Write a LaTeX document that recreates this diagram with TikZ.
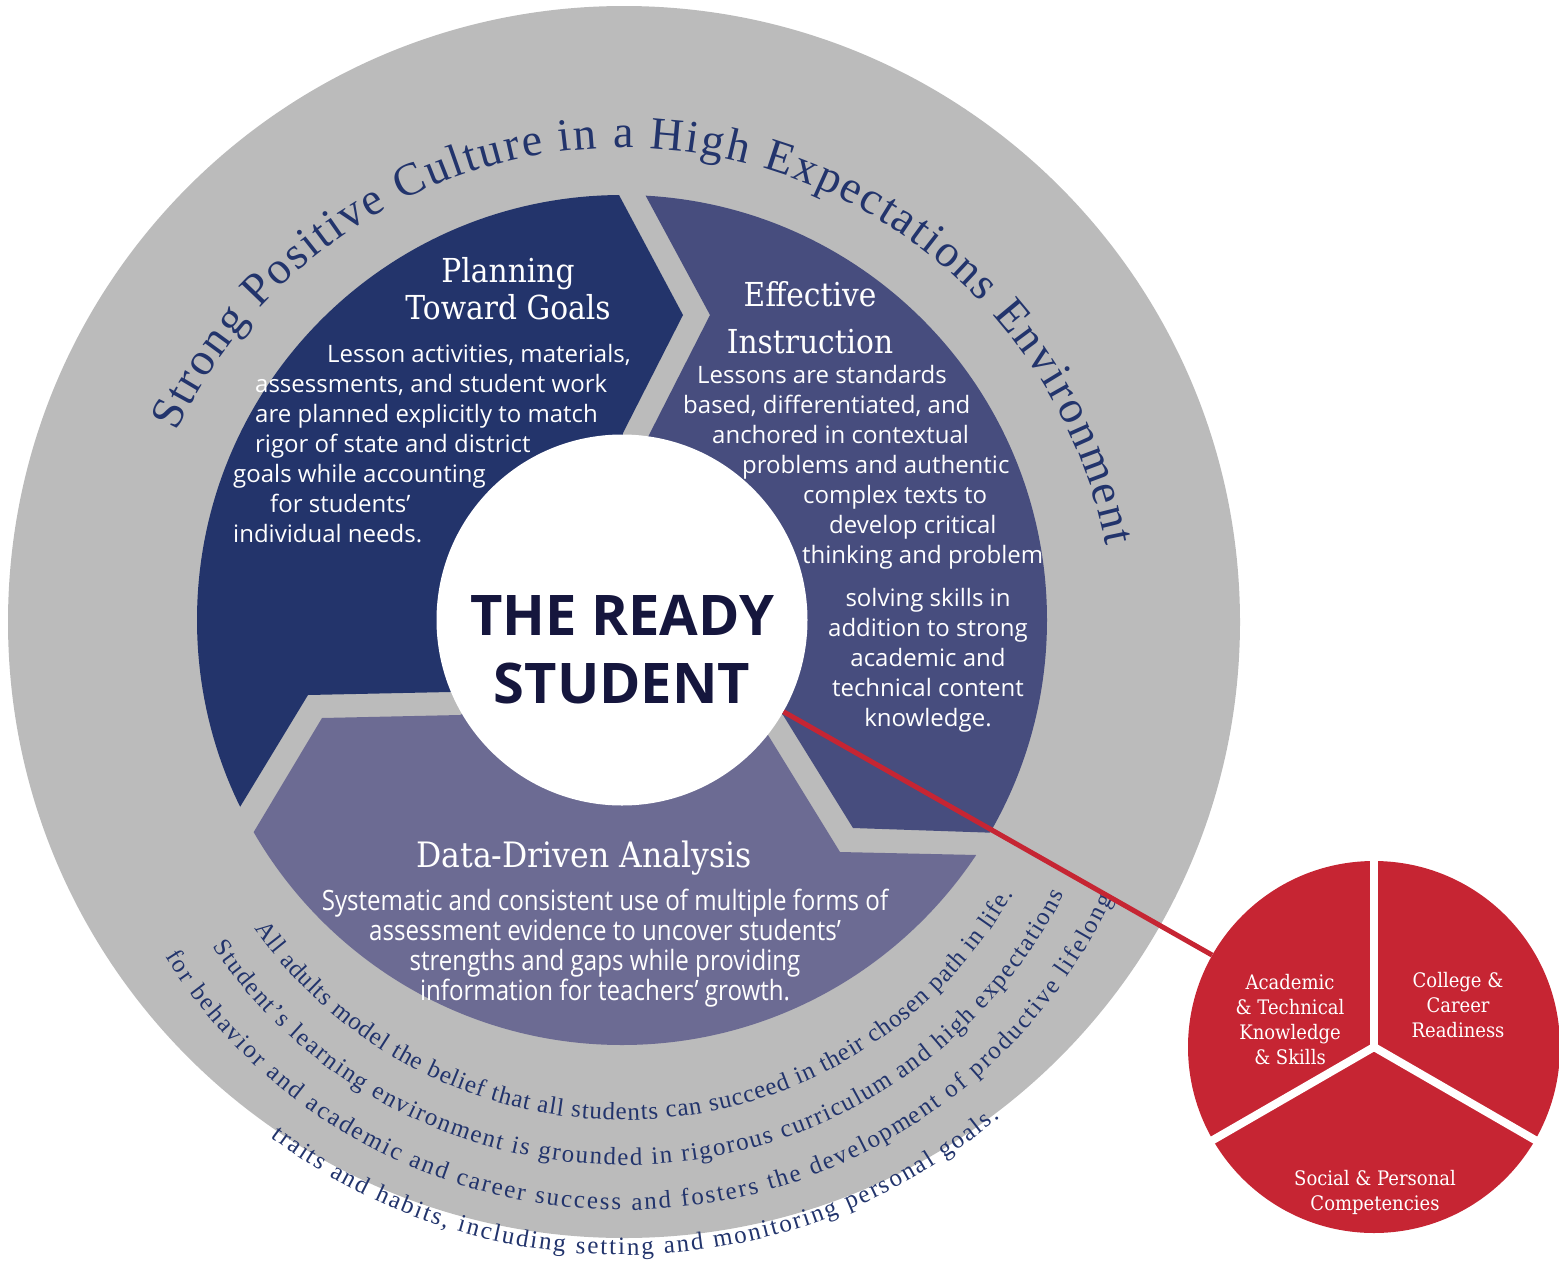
\documentclass[tikz,border=0pt]{standalone}
\usepackage{fontspec}
\setmainfont{Open Sans}
\newfontfamily\headfont{DejaVu Serif}[FakeStretch=0.9]
\newfontfamily\arcserif{Liberation Serif}
\newfontfamily\condsans{Open Sans}[FakeStretch=0.86]
\usepackage{tikz}
\usetikzlibrary{decorations.text}
\definecolor{ringgrey}{RGB}{187,187,187}
\definecolor{planfill}{RGB}{35,52,107}
\definecolor{instrfill}{RGB}{71,77,126}
\definecolor{datafill}{RGB}{108,107,147}
\definecolor{readytxt}{RGB}{21,22,61}
\definecolor{curvetxt}{RGB}{34,52,108}
\definecolor{linkred}{RGB}{198,37,51}
\newcommand{\topfont}{\arcserif\fontsize{46}{46}\selectfont}
\newcommand{\botfont}{\arcserif\fontsize{25}{25}\selectfont}

\begin{document}
\begin{tikzpicture}[x=1pt,y=1pt,
    head/.style={align=center,text=white,inner sep=0,font=\headfont\fontsize{33}{37}\selectfont},
    body/.style={text=white,inner sep=0,font=\fontsize{24}{30}\selectfont},
    pietext/.style={align=center,text=white,inner sep=0,font=\headfont\fontsize{20}{25}\selectfont},
    toparc/.style={decorate,decoration={text along path,text align=fit to path,text color=curvetxt,text={|\topfont|#1}}},
    botarc/.style={decorate,decoration={text along path,text align=fit to path,text color=curvetxt,text={|\botfont|#1}}},
    sepline/.style={white,line width=8pt,line cap=round},
    redlink/.style={draw=linkred,line width=5pt}]
  \useasboundingbox (0,0) rectangle (1559,-1283);

  % environment ring
  \node[circle,fill=ringgrey,minimum size=1232,inner sep=0] (env) at (624,-622) {};

  % the three chevrons
  \begin{scope}
    \clip (595,-150) -- (683,-315) -- (623,-433) -- (600,-620) -- (450,-692) -- (308,-695)
      -- (240,-807) -- (196,-880) -- (100,-880) -- (100,-150) -- cycle;
    \fill[planfill] (622,-620) circle (425);
  \end{scope}
  \begin{scope}
    \clip (621,-150) -- (710,-315) -- (648,-437) -- (640,-620) -- (783,-715) -- (853,-828)
      -- (1000,-833) -- (1100,-836) -- (1100,-150) -- cycle;
    \fill[instrfill] (622,-620) circle (425);
  \end{scope}
  \begin{scope}
    \clip (213,-900) -- (322,-718) -- (460,-715) -- (622,-640) -- (768,-735) -- (840,-852)
      -- (977,-855) -- (1100,-857) -- (1100,-1100) -- (200,-1100) -- cycle;
    \fill[datafill] (622,-620) circle (425);
  \end{scope}

  \node[circle,fill=white,minimum size=371,inner sep=0] (ready) at (622,-620) {};
  \node[align=center,text=readytxt,font=\bfseries\fontsize{56}{68}\selectfont] (readylbl) at (622,-650) {THE READY\\STUDENT};

  % curved texts
  \path[toparc={Strong Positive Culture in a High Expectations Environment}]
    (623,-640) ++(155:492) arc[start angle=155,end angle=11,radius=492];
  \path[botarc={All adults model the belief that all students can succeed in their chosen path in life.}]
    (623,-670) ++(215:450) arc[start angle=215,end angle=330,radius=450];
  \path[botarc={Student’s learning environment is grounded in rigorous curriculum and high expectations}]
    (623,-670) ++(214:495) arc[start angle=214,end angle=333,radius=495];
  \path[botarc={for behavior and academic and career success and fosters the development of productive lifelong}]
    (623,-670) ++(212:540) arc[start angle=212,end angle=335,radius=540];
  \path[botarc={traits and habits, including setting and monitoring personal goals.}]
    (623,-670) ++(233:585) arc[start angle=233,end angle=310,radius=585];

  % planning
  \node[head] (plan) at (508,-289) {Planning\\Toward Goals};
  \node[body,anchor=west,align=left] (plantxt) at (233,-444) {\hspace*{94pt}Lesson activities, materials,\\
    \hspace*{22pt}assessments, and student work\\
    \hspace*{22pt}are planned explicitly to match\\
    \hspace*{22pt}rigor of state and district\\
    goals while accounting\\
    \hspace*{37pt}for students’\\
    individual needs.};

  % instruction
  \node[head] (instr) at (810,-318) {Effective\\[10pt]Instruction};
  \node[body,anchor=west,align=left] (instrtxt) at (683,-467) {\hspace*{14pt}Lessons are standards\\
    based, differentiated, and\\
    \hspace*{29pt}anchored in contextual\\
    \hspace*{59pt}problems and authentic\\
    \hspace*{120pt}complex texts to\\
    \hspace*{146pt}develop critical\\
    \hspace*{119pt}thinking and problem};
  \node[body,align=center] (instrmore) at (928,-660) {solving skills in\\addition to strong\\academic and\\technical content\\knowledge.};

  % data
  \node[head,font=\headfont\fontsize{35}{37}\selectfont] (data) at (584,-858) {Data-Driven Analysis};
  \node[body,align=center,font=\condsans\fontsize{28}{30}\selectfont] (datatxt) at (605,-948) {Systematic and consistent use of multiple forms of\\
    assessment evidence to uncover students’\\
    strengths and gaps while providing\\
    information for teachers’ growth.};

  % outcomes
  \node[circle,fill=linkred,minimum size=372,inner sep=0] (pie) at (1374,-1047) {};
  \draw[redlink] (ready) -- (pie);
  \draw[sepline] (pie.center) -- (pie.north);
  \draw[sepline] (pie.center) -- (pie.210);
  \draw[sepline] (pie.center) -- (pie.-30);
  \node[pietext] (akts) at (1290,-1020) {Academic\\\& Technical\\Knowledge\\\& Skills};
  \node[pietext] (ccr) at (1458,-1005) {College \&\\Career\\Readiness};
  \node[pietext] (spc) at (1375,-1192) {Social \& Personal\\Competencies};
\end{tikzpicture}
\end{document}
